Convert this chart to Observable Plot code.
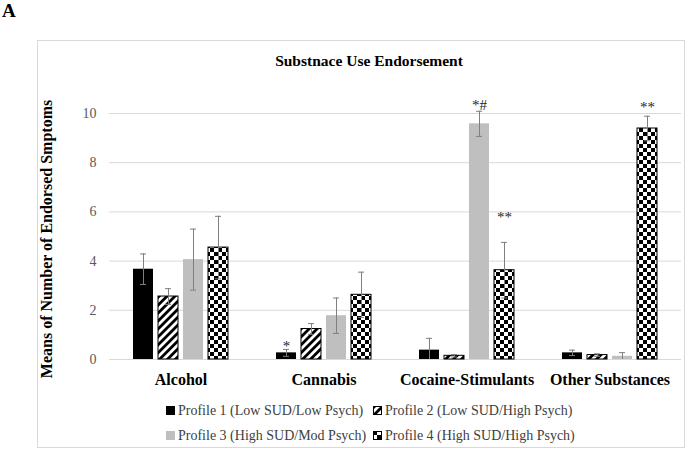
<!DOCTYPE html>
<html>
<head>
<meta charset="utf-8">
<script src="https://cdn.jsdelivr.net/npm/d3@7"></script>
<script src="https://cdn.jsdelivr.net/npm/@observablehq/plot@0.6"></script>
<style>
  html, body { margin: 0; padding: 0; background: #ffffff; }
  body { width: 700px; height: 456px; position: relative; overflow: hidden; font-family: "Liberation Serif", "Times New Roman", serif; }
  .abs { position: absolute; white-space: nowrap; }
  #panelA { left: 2px; top: 0px; font-size: 19px; font-weight: bold; color: #000; }
  #frame { left: 37px; top: 40px; width: 646px; height: 406px; border: 1px solid #d9d9d9; }
  #title { left: 369px; top: 61px; transform: translate(-50%, -50%); font-size: 15.5px; font-weight: bold; color: #000; }
  #ytitle { left: 47px; top: 239px; transform: translate(-50%, -50%) rotate(-90deg); font-size: 16px; font-weight: bold; color: #000; }
  #chart { left: 0; top: 0; }
  .leg { font-family: "Liberation Serif", serif; font-size: 14px; color: #404040; display: flex; align-items: center; }
  .leg svg { margin-right: 2px; }
</style>
</head>
<body>
<svg width="0" height="0" style="position:absolute">
  <defs>
    <pattern id="stripes" patternUnits="userSpaceOnUse" width="5.6" height="5.6" patternTransform="rotate(45)">
      <rect width="5.6" height="5.6" fill="#ffffff"></rect>
      <rect width="2.8" height="5.6" fill="#000000"></rect>
    </pattern>
    <pattern id="checker" patternUnits="userSpaceOnUse" width="8" height="8">
      <rect width="8" height="8" fill="#ffffff"></rect>
      <rect width="4" height="4" fill="#000000"></rect>
      <rect x="4" y="4" width="4" height="4" fill="#000000"></rect>
    </pattern>
  </defs>
</svg>
<div id="panelA" class="abs">A</div>
<div id="frame" class="abs"></div>
<div id="title" class="abs">Substnace Use Endorsement</div>
<div id="chart" class="abs"></div>
<div id="ytitle" class="abs">Means of Number of Endorsed Smptoms</div>
<div id="legend"></div>
<script>
// ---- data ----
const categories = ["Alcohol", "Cannabis", "Cocaine-Stimulants", "Other Substances"];
const profiles = [
  "Profile 1 (Low SUD/Low Psych)",
  "Profile 2 (Low SUD/High Psych)",
  "Profile 3 (High SUD/Mod Psych)",
  "Profile 4 (High SUD/High Psych)"
];
const profile1Means = [3.67, 0.27, 0.38, 0.27];
const profile2Means = [2.56, 1.24, 0.15, 0.18];
const profile3Means = [4.06, 1.78, 9.58, 0.13];
const profile4Means = [4.55, 2.63, 3.63, 9.39];
const profile1Errors = [0.62, 0.14, 0.48, 0.11];
const profile2Errors = [0.32, 0.22, 0.05, 0.05];
const profile3Errors = [1.24, 0.72, 0.51, 0.15];
const profile4Errors = [1.27, 0.92, 1.13, 0.50];
const yTicks = [0, 2, 4, 6, 8, 10];
const annotLabels = ["*", "*#", "**", "**"];
const annotCategories = ["Cannabis", "Cocaine-Stimulants", "Cocaine-Stimulants", "Other Substances"];
const annotProfileIndex = [0, 2, 3, 3];
const annotLevels = [0.36, 10.16, 5.6, 10.05];

// ---- styles ----
const fills = ["#000000", "url(#stripes)", "#bfbfbf", "url(#checker)"];
const strokes = ["none", "#000000", "none", "#000000"];

const means = [profile1Means, profile2Means, profile3Means, profile4Means];
const errors = [profile1Errors, profile2Errors, profile3Errors, profile4Errors];
const rows = categories.flatMap((c, i) => profiles.map((p, j) => ({
  category: c, profile: p, pi: j, mean: means[j][i], err: errors[j][i]
})));
const annots = annotLabels.map((t, k) => ({
  label: t, category: annotCategories[k], profile: profiles[annotProfileIndex[k]], level: annotLevels[k]
}));

const barMarks = profiles.map((p, j) => Plot.barY(rows.filter(d => d.pi === j), {
  fx: "category", x: "profile", y: "mean",
  fill: fills[j], stroke: strokes[j], strokeWidth: 1, insetLeft: 0, insetRight: 0
}));

const chart = Plot.plot({
  width: 700,
  height: 400,
  marginLeft: 107,
  marginRight: 18,
  marginTop: 113,
  marginBottom: 41,
  style: { fontFamily: "Liberation Serif", background: "transparent", overflow: "visible" },
  fx: { domain: categories, padding: 0, label: null },
  x: { domain: profiles, paddingInner: 0.19, paddingOuter: 0.86, axis: null },
  y: { domain: [0, 10] },
  marks: [
    Plot.ruleY(yTicks, { stroke: "#d9d9d9", strokeWidth: 1 }),
    Plot.axisY(yTicks, { tickSize: 0, tickPadding: 13, fontSize: 14, fill: "#595959", label: null }),
    Plot.axisFx({ anchor: "bottom", tickSize: 0, tickPadding: 14, fontSize: 16, fontWeight: "bold", fill: "#000000", label: null }),
    ...barMarks,
    Plot.ruleX(rows, { fx: "category", x: "profile", y1: d => Math.max(0, d.mean - d.err), y2: d => d.mean + d.err, stroke: "#7f7f7f", strokeWidth: 1 }),
    Plot.tickY(rows, { fx: "category", x: "profile", y: d => d.mean + d.err, stroke: "#7f7f7f", strokeWidth: 1, insetLeft: 7, insetRight: 7 }),
    Plot.tickY(rows.filter(d => d.mean - d.err > 0), { fx: "category", x: "profile", y: d => d.mean - d.err, stroke: "#7f7f7f", strokeWidth: 1, insetLeft: 7, insetRight: 7 }),
    Plot.text(annots, { fx: "category", x: "profile", y: "level", text: "label", fontSize: 15, lineAnchor: "bottom", fill: "#262626" })
  ]
});
document.getElementById("chart").appendChild(chart);

// ---- legend ----
const legendPos = [[166, 411], [373, 411], [166, 436], [373, 436]];
const legend = document.getElementById("legend");
profiles.forEach((p, j) => {
  const item = document.createElement("div");
  item.className = "abs leg";
  item.style.left = legendPos[j][0] + "px";
  item.style.top = (legendPos[j][1] - 9) + "px";
  item.style.height = "18px";
  const sw = d3.create("svg").attr("width", 10).attr("height", 10);
  sw.append("rect").attr("x", 0.5).attr("y", 0.5).attr("width", 8).attr("height", 8)
    .attr("fill", fills[j]).attr("stroke", strokes[j] === "none" ? fills[j] : strokes[j]).attr("stroke-width", 1);
  item.appendChild(sw.node());
  const label = document.createElement("span");
  label.textContent = p;
  item.appendChild(label);
  legend.appendChild(item);
});
</script>
</body>
</html>
